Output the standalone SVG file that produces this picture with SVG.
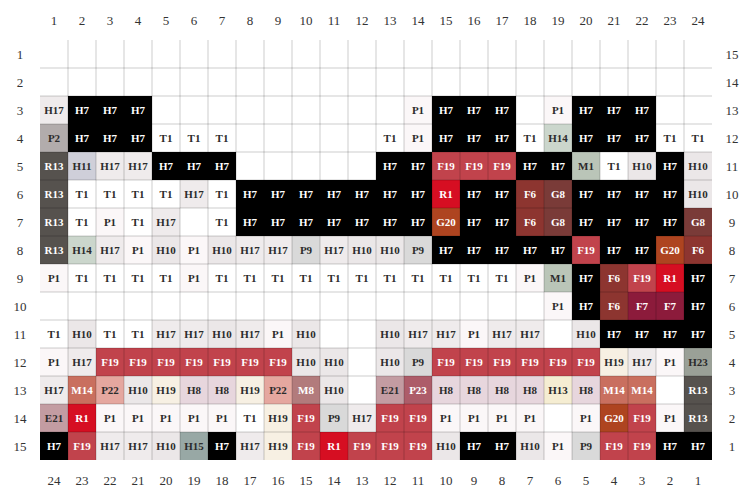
<svg xmlns="http://www.w3.org/2000/svg" width="752" height="500" viewBox="0 0 752 500">
<style>
rect{stroke:none}
.H7{fill:#000}.F19{fill:#c1434c}.R1{fill:#d60e22}.G20{fill:#ae4420}.F6{fill:#8d3530}.G8{fill:#7a3b38}.F7{fill:#8c1b3b}
.R13{fill:#56524e}.P2{fill:#b2acac}.H11{fill:#cfcfd9}.H17{fill:#efebec}.T1{fill:#fff}.P1{fill:#fbf7f8}.H14{fill:#cbd6cc}
.M1{fill:#bac5b8}.H10{fill:#ebe7e8}.P9{fill:#d9d9d9}.H19{fill:#f7f0e3}.H8{fill:#e7d6dd}.P22{fill:#e5a79f}.M14{fill:#c96f5f}
.M8{fill:#b27b7c}.E21{fill:#c39ca2}.P23{fill:#ad5c69}.H13{fill:#f5edd2}.H23{fill:#9aa097}.H15{fill:#98a8a5}
text{font-family:"Liberation Serif","Times New Roman",serif}
.cell text{font-size:11px;font-weight:bold;text-anchor:middle}
.w{fill:#fff}.d{fill:#2b2b2b}
.ax{font-size:13px;fill:#333;text-anchor:middle}
</style>
<rect x="0" y="0" width="752" height="500" fill="#fff"/>
<g id="cells" class="cell">
<g id="r3c1" transform="translate(40,96)"><rect class="H17" width="28" height="28"/><text class="d" x="14" y="18">H17</text></g>
<g id="r3c2" transform="translate(68,96)"><rect class="H7" width="28" height="28"/><text class="w" x="14" y="18">H7</text></g>
<g id="r3c3" transform="translate(96,96)"><rect class="H7" width="28" height="28"/><text class="w" x="14" y="18">H7</text></g>
<g id="r3c4" transform="translate(124,96)"><rect class="H7" width="28" height="28"/><text class="w" x="14" y="18">H7</text></g>
<g id="r3c14" transform="translate(404,96)"><rect class="P1" width="28" height="28"/><text class="d" x="14" y="18">P1</text></g>
<g id="r3c15" transform="translate(432,96)"><rect class="H7" width="28" height="28"/><text class="w" x="14" y="18">H7</text></g>
<g id="r3c16" transform="translate(460,96)"><rect class="H7" width="28" height="28"/><text class="w" x="14" y="18">H7</text></g>
<g id="r3c17" transform="translate(488,96)"><rect class="H7" width="28" height="28"/><text class="w" x="14" y="18">H7</text></g>
<g id="r3c19" transform="translate(544,96)"><rect class="P1" width="28" height="28"/><text class="d" x="14" y="18">P1</text></g>
<g id="r3c20" transform="translate(572,96)"><rect class="H7" width="28" height="28"/><text class="w" x="14" y="18">H7</text></g>
<g id="r3c21" transform="translate(600,96)"><rect class="H7" width="28" height="28"/><text class="w" x="14" y="18">H7</text></g>
<g id="r3c22" transform="translate(628,96)"><rect class="H7" width="28" height="28"/><text class="w" x="14" y="18">H7</text></g>

<g id="r4c1" transform="translate(40,124)"><rect class="P2" width="28" height="28"/><text class="d" x="14" y="18">P2</text></g>
<g id="r4c2" transform="translate(68,124)"><rect class="H7" width="28" height="28"/><text class="w" x="14" y="18">H7</text></g>
<g id="r4c3" transform="translate(96,124)"><rect class="H7" width="28" height="28"/><text class="w" x="14" y="18">H7</text></g>
<g id="r4c4" transform="translate(124,124)"><rect class="H7" width="28" height="28"/><text class="w" x="14" y="18">H7</text></g>
<g id="r4c5" transform="translate(152,124)"><rect class="T1" width="28" height="28"/><text class="d" x="14" y="18">T1</text></g>
<g id="r4c6" transform="translate(180,124)"><rect class="T1" width="28" height="28"/><text class="d" x="14" y="18">T1</text></g>
<g id="r4c7" transform="translate(208,124)"><rect class="T1" width="28" height="28"/><text class="d" x="14" y="18">T1</text></g>
<g id="r4c13" transform="translate(376,124)"><rect class="T1" width="28" height="28"/><text class="d" x="14" y="18">T1</text></g>
<g id="r4c14" transform="translate(404,124)"><rect class="P1" width="28" height="28"/><text class="d" x="14" y="18">P1</text></g>
<g id="r4c15" transform="translate(432,124)"><rect class="H7" width="28" height="28"/><text class="w" x="14" y="18">H7</text></g>
<g id="r4c16" transform="translate(460,124)"><rect class="H7" width="28" height="28"/><text class="w" x="14" y="18">H7</text></g>
<g id="r4c17" transform="translate(488,124)"><rect class="H7" width="28" height="28"/><text class="w" x="14" y="18">H7</text></g>
<g id="r4c18" transform="translate(516,124)"><rect class="T1" width="28" height="28"/><text class="d" x="14" y="18">T1</text></g>
<g id="r4c19" transform="translate(544,124)"><rect class="H14" width="28" height="28"/><text class="d" x="14" y="18">H14</text></g>
<g id="r4c20" transform="translate(572,124)"><rect class="H7" width="28" height="28"/><text class="w" x="14" y="18">H7</text></g>
<g id="r4c21" transform="translate(600,124)"><rect class="H7" width="28" height="28"/><text class="w" x="14" y="18">H7</text></g>
<g id="r4c22" transform="translate(628,124)"><rect class="H7" width="28" height="28"/><text class="w" x="14" y="18">H7</text></g>
<g id="r4c23" transform="translate(656,124)"><rect class="T1" width="28" height="28"/><text class="d" x="14" y="18">T1</text></g>
<g id="r4c24" transform="translate(684,124)"><rect class="T1" width="28" height="28"/><text class="d" x="14" y="18">T1</text></g>

<g id="r5c1" transform="translate(40,152)"><rect class="R13" width="28" height="28"/><text class="w" x="14" y="18">R13</text></g>
<g id="r5c2" transform="translate(68,152)"><rect class="H11" width="28" height="28"/><text class="d" x="14" y="18">H11</text></g>
<g id="r5c3" transform="translate(96,152)"><rect class="H17" width="28" height="28"/><text class="d" x="14" y="18">H17</text></g>
<g id="r5c4" transform="translate(124,152)"><rect class="H17" width="28" height="28"/><text class="d" x="14" y="18">H17</text></g>
<g id="r5c5" transform="translate(152,152)"><rect class="H7" width="28" height="28"/><text class="w" x="14" y="18">H7</text></g>
<g id="r5c6" transform="translate(180,152)"><rect class="H7" width="28" height="28"/><text class="w" x="14" y="18">H7</text></g>
<g id="r5c7" transform="translate(208,152)"><rect class="H7" width="28" height="28"/><text class="w" x="14" y="18">H7</text></g>
<g id="r5c13" transform="translate(376,152)"><rect class="H7" width="28" height="28"/><text class="w" x="14" y="18">H7</text></g>
<g id="r5c14" transform="translate(404,152)"><rect class="H7" width="28" height="28"/><text class="w" x="14" y="18">H7</text></g>
<g id="r5c15" transform="translate(432,152)"><rect class="F19" width="28" height="28"/><text class="w" x="14" y="18">F19</text></g>
<g id="r5c16" transform="translate(460,152)"><rect class="F19" width="28" height="28"/><text class="w" x="14" y="18">F19</text></g>
<g id="r5c17" transform="translate(488,152)"><rect class="F19" width="28" height="28"/><text class="w" x="14" y="18">F19</text></g>
<g id="r5c18" transform="translate(516,152)"><rect class="H7" width="28" height="28"/><text class="w" x="14" y="18">H7</text></g>
<g id="r5c19" transform="translate(544,152)"><rect class="H7" width="28" height="28"/><text class="w" x="14" y="18">H7</text></g>
<g id="r5c20" transform="translate(572,152)"><rect class="M1" width="28" height="28"/><text class="d" x="14" y="18">M1</text></g>
<g id="r5c21" transform="translate(600,152)"><rect class="T1" width="28" height="28"/><text class="d" x="14" y="18">T1</text></g>
<g id="r5c22" transform="translate(628,152)"><rect class="H10" width="28" height="28"/><text class="d" x="14" y="18">H10</text></g>
<g id="r5c23" transform="translate(656,152)"><rect class="H7" width="28" height="28"/><text class="w" x="14" y="18">H7</text></g>
<g id="r5c24" transform="translate(684,152)"><rect class="H10" width="28" height="28"/><text class="d" x="14" y="18">H10</text></g>

<g id="r6c1" transform="translate(40,180)"><rect class="R13" width="28" height="28"/><text class="w" x="14" y="18">R13</text></g>
<g id="r6c2" transform="translate(68,180)"><rect class="T1" width="28" height="28"/><text class="d" x="14" y="18">T1</text></g>
<g id="r6c3" transform="translate(96,180)"><rect class="T1" width="28" height="28"/><text class="d" x="14" y="18">T1</text></g>
<g id="r6c4" transform="translate(124,180)"><rect class="T1" width="28" height="28"/><text class="d" x="14" y="18">T1</text></g>
<g id="r6c5" transform="translate(152,180)"><rect class="T1" width="28" height="28"/><text class="d" x="14" y="18">T1</text></g>
<g id="r6c6" transform="translate(180,180)"><rect class="H17" width="28" height="28"/><text class="d" x="14" y="18">H17</text></g>
<g id="r6c7" transform="translate(208,180)"><rect class="T1" width="28" height="28"/><text class="d" x="14" y="18">T1</text></g>
<g id="r6c8" transform="translate(236,180)"><rect class="H7" width="28" height="28"/><text class="w" x="14" y="18">H7</text></g>
<g id="r6c9" transform="translate(264,180)"><rect class="H7" width="28" height="28"/><text class="w" x="14" y="18">H7</text></g>
<g id="r6c10" transform="translate(292,180)"><rect class="H7" width="28" height="28"/><text class="w" x="14" y="18">H7</text></g>
<g id="r6c11" transform="translate(320,180)"><rect class="H7" width="28" height="28"/><text class="w" x="14" y="18">H7</text></g>
<g id="r6c12" transform="translate(348,180)"><rect class="H7" width="28" height="28"/><text class="w" x="14" y="18">H7</text></g>
<g id="r6c13" transform="translate(376,180)"><rect class="H7" width="28" height="28"/><text class="w" x="14" y="18">H7</text></g>
<g id="r6c14" transform="translate(404,180)"><rect class="H7" width="28" height="28"/><text class="w" x="14" y="18">H7</text></g>
<g id="r6c15" transform="translate(432,180)"><rect class="R1" width="28" height="28"/><text class="w" x="14" y="18">R1</text></g>
<g id="r6c16" transform="translate(460,180)"><rect class="H7" width="28" height="28"/><text class="w" x="14" y="18">H7</text></g>
<g id="r6c17" transform="translate(488,180)"><rect class="H7" width="28" height="28"/><text class="w" x="14" y="18">H7</text></g>
<g id="r6c18" transform="translate(516,180)"><rect class="F6" width="28" height="28"/><text class="w" x="14" y="18">F6</text></g>
<g id="r6c19" transform="translate(544,180)"><rect class="G8" width="28" height="28"/><text class="w" x="14" y="18">G8</text></g>
<g id="r6c20" transform="translate(572,180)"><rect class="H7" width="28" height="28"/><text class="w" x="14" y="18">H7</text></g>
<g id="r6c21" transform="translate(600,180)"><rect class="H7" width="28" height="28"/><text class="w" x="14" y="18">H7</text></g>
<g id="r6c22" transform="translate(628,180)"><rect class="H7" width="28" height="28"/><text class="w" x="14" y="18">H7</text></g>
<g id="r6c23" transform="translate(656,180)"><rect class="H7" width="28" height="28"/><text class="w" x="14" y="18">H7</text></g>
<g id="r6c24" transform="translate(684,180)"><rect class="H10" width="28" height="28"/><text class="d" x="14" y="18">H10</text></g>

<g id="r7c1" transform="translate(40,208)"><rect class="R13" width="28" height="28"/><text class="w" x="14" y="18">R13</text></g>
<g id="r7c2" transform="translate(68,208)"><rect class="T1" width="28" height="28"/><text class="d" x="14" y="18">T1</text></g>
<g id="r7c3" transform="translate(96,208)"><rect class="P1" width="28" height="28"/><text class="d" x="14" y="18">P1</text></g>
<g id="r7c4" transform="translate(124,208)"><rect class="T1" width="28" height="28"/><text class="d" x="14" y="18">T1</text></g>
<g id="r7c5" transform="translate(152,208)"><rect class="H17" width="28" height="28"/><text class="d" x="14" y="18">H17</text></g>
<g id="r7c7" transform="translate(208,208)"><rect class="T1" width="28" height="28"/><text class="d" x="14" y="18">T1</text></g>
<g id="r7c8" transform="translate(236,208)"><rect class="H7" width="28" height="28"/><text class="w" x="14" y="18">H7</text></g>
<g id="r7c9" transform="translate(264,208)"><rect class="H7" width="28" height="28"/><text class="w" x="14" y="18">H7</text></g>
<g id="r7c10" transform="translate(292,208)"><rect class="H7" width="28" height="28"/><text class="w" x="14" y="18">H7</text></g>
<g id="r7c11" transform="translate(320,208)"><rect class="H7" width="28" height="28"/><text class="w" x="14" y="18">H7</text></g>
<g id="r7c12" transform="translate(348,208)"><rect class="H7" width="28" height="28"/><text class="w" x="14" y="18">H7</text></g>
<g id="r7c13" transform="translate(376,208)"><rect class="H7" width="28" height="28"/><text class="w" x="14" y="18">H7</text></g>
<g id="r7c14" transform="translate(404,208)"><rect class="H7" width="28" height="28"/><text class="w" x="14" y="18">H7</text></g>
<g id="r7c15" transform="translate(432,208)"><rect class="G20" width="28" height="28"/><text class="w" x="14" y="18">G20</text></g>
<g id="r7c16" transform="translate(460,208)"><rect class="H7" width="28" height="28"/><text class="w" x="14" y="18">H7</text></g>
<g id="r7c17" transform="translate(488,208)"><rect class="H7" width="28" height="28"/><text class="w" x="14" y="18">H7</text></g>
<g id="r7c18" transform="translate(516,208)"><rect class="F6" width="28" height="28"/><text class="w" x="14" y="18">F6</text></g>
<g id="r7c19" transform="translate(544,208)"><rect class="G8" width="28" height="28"/><text class="w" x="14" y="18">G8</text></g>
<g id="r7c20" transform="translate(572,208)"><rect class="H7" width="28" height="28"/><text class="w" x="14" y="18">H7</text></g>
<g id="r7c21" transform="translate(600,208)"><rect class="H7" width="28" height="28"/><text class="w" x="14" y="18">H7</text></g>
<g id="r7c22" transform="translate(628,208)"><rect class="H7" width="28" height="28"/><text class="w" x="14" y="18">H7</text></g>
<g id="r7c23" transform="translate(656,208)"><rect class="H7" width="28" height="28"/><text class="w" x="14" y="18">H7</text></g>
<g id="r7c24" transform="translate(684,208)"><rect class="G8" width="28" height="28"/><text class="w" x="14" y="18">G8</text></g>

<g id="r8c1" transform="translate(40,236)"><rect class="R13" width="28" height="28"/><text class="w" x="14" y="18">R13</text></g>
<g id="r8c2" transform="translate(68,236)"><rect class="H14" width="28" height="28"/><text class="d" x="14" y="18">H14</text></g>
<g id="r8c3" transform="translate(96,236)"><rect class="H17" width="28" height="28"/><text class="d" x="14" y="18">H17</text></g>
<g id="r8c4" transform="translate(124,236)"><rect class="P1" width="28" height="28"/><text class="d" x="14" y="18">P1</text></g>
<g id="r8c5" transform="translate(152,236)"><rect class="H10" width="28" height="28"/><text class="d" x="14" y="18">H10</text></g>
<g id="r8c6" transform="translate(180,236)"><rect class="P1" width="28" height="28"/><text class="d" x="14" y="18">P1</text></g>
<g id="r8c7" transform="translate(208,236)"><rect class="H10" width="28" height="28"/><text class="d" x="14" y="18">H10</text></g>
<g id="r8c8" transform="translate(236,236)"><rect class="H17" width="28" height="28"/><text class="d" x="14" y="18">H17</text></g>
<g id="r8c9" transform="translate(264,236)"><rect class="H17" width="28" height="28"/><text class="d" x="14" y="18">H17</text></g>
<g id="r8c10" transform="translate(292,236)"><rect class="P9" width="28" height="28"/><text class="d" x="14" y="18">P9</text></g>
<g id="r8c11" transform="translate(320,236)"><rect class="H17" width="28" height="28"/><text class="d" x="14" y="18">H17</text></g>
<g id="r8c12" transform="translate(348,236)"><rect class="H10" width="28" height="28"/><text class="d" x="14" y="18">H10</text></g>
<g id="r8c13" transform="translate(376,236)"><rect class="H10" width="28" height="28"/><text class="d" x="14" y="18">H10</text></g>
<g id="r8c14" transform="translate(404,236)"><rect class="P9" width="28" height="28"/><text class="d" x="14" y="18">P9</text></g>
<g id="r8c15" transform="translate(432,236)"><rect class="H7" width="28" height="28"/><text class="w" x="14" y="18">H7</text></g>
<g id="r8c16" transform="translate(460,236)"><rect class="H7" width="28" height="28"/><text class="w" x="14" y="18">H7</text></g>
<g id="r8c17" transform="translate(488,236)"><rect class="H7" width="28" height="28"/><text class="w" x="14" y="18">H7</text></g>
<g id="r8c18" transform="translate(516,236)"><rect class="H7" width="28" height="28"/><text class="w" x="14" y="18">H7</text></g>
<g id="r8c19" transform="translate(544,236)"><rect class="H7" width="28" height="28"/><text class="w" x="14" y="18">H7</text></g>
<g id="r8c20" transform="translate(572,236)"><rect class="F19" width="28" height="28"/><text class="w" x="14" y="18">F19</text></g>
<g id="r8c21" transform="translate(600,236)"><rect class="H7" width="28" height="28"/><text class="w" x="14" y="18">H7</text></g>
<g id="r8c22" transform="translate(628,236)"><rect class="H7" width="28" height="28"/><text class="w" x="14" y="18">H7</text></g>
<g id="r8c23" transform="translate(656,236)"><rect class="G20" width="28" height="28"/><text class="w" x="14" y="18">G20</text></g>
<g id="r8c24" transform="translate(684,236)"><rect class="F6" width="28" height="28"/><text class="w" x="14" y="18">F6</text></g>

<g id="r9c1" transform="translate(40,264)"><rect class="P1" width="28" height="28"/><text class="d" x="14" y="18">P1</text></g>
<g id="r9c2" transform="translate(68,264)"><rect class="T1" width="28" height="28"/><text class="d" x="14" y="18">T1</text></g>
<g id="r9c3" transform="translate(96,264)"><rect class="T1" width="28" height="28"/><text class="d" x="14" y="18">T1</text></g>
<g id="r9c4" transform="translate(124,264)"><rect class="T1" width="28" height="28"/><text class="d" x="14" y="18">T1</text></g>
<g id="r9c5" transform="translate(152,264)"><rect class="T1" width="28" height="28"/><text class="d" x="14" y="18">T1</text></g>
<g id="r9c6" transform="translate(180,264)"><rect class="P1" width="28" height="28"/><text class="d" x="14" y="18">P1</text></g>
<g id="r9c7" transform="translate(208,264)"><rect class="T1" width="28" height="28"/><text class="d" x="14" y="18">T1</text></g>
<g id="r9c8" transform="translate(236,264)"><rect class="T1" width="28" height="28"/><text class="d" x="14" y="18">T1</text></g>
<g id="r9c9" transform="translate(264,264)"><rect class="T1" width="28" height="28"/><text class="d" x="14" y="18">T1</text></g>
<g id="r9c10" transform="translate(292,264)"><rect class="T1" width="28" height="28"/><text class="d" x="14" y="18">T1</text></g>
<g id="r9c11" transform="translate(320,264)"><rect class="T1" width="28" height="28"/><text class="d" x="14" y="18">T1</text></g>
<g id="r9c12" transform="translate(348,264)"><rect class="T1" width="28" height="28"/><text class="d" x="14" y="18">T1</text></g>
<g id="r9c13" transform="translate(376,264)"><rect class="T1" width="28" height="28"/><text class="d" x="14" y="18">T1</text></g>
<g id="r9c14" transform="translate(404,264)"><rect class="T1" width="28" height="28"/><text class="d" x="14" y="18">T1</text></g>
<g id="r9c15" transform="translate(432,264)"><rect class="T1" width="28" height="28"/><text class="d" x="14" y="18">T1</text></g>
<g id="r9c16" transform="translate(460,264)"><rect class="T1" width="28" height="28"/><text class="d" x="14" y="18">T1</text></g>
<g id="r9c17" transform="translate(488,264)"><rect class="T1" width="28" height="28"/><text class="d" x="14" y="18">T1</text></g>
<g id="r9c18" transform="translate(516,264)"><rect class="P1" width="28" height="28"/><text class="d" x="14" y="18">P1</text></g>
<g id="r9c19" transform="translate(544,264)"><rect class="M1" width="28" height="28"/><text class="d" x="14" y="18">M1</text></g>
<g id="r9c20" transform="translate(572,264)"><rect class="H7" width="28" height="28"/><text class="w" x="14" y="18">H7</text></g>
<g id="r9c21" transform="translate(600,264)"><rect class="F6" width="28" height="28"/><text class="w" x="14" y="18">F6</text></g>
<g id="r9c22" transform="translate(628,264)"><rect class="F19" width="28" height="28"/><text class="w" x="14" y="18">F19</text></g>
<g id="r9c23" transform="translate(656,264)"><rect class="R1" width="28" height="28"/><text class="w" x="14" y="18">R1</text></g>
<g id="r9c24" transform="translate(684,264)"><rect class="H7" width="28" height="28"/><text class="w" x="14" y="18">H7</text></g>

<g id="r10c19" transform="translate(544,292)"><rect class="P1" width="28" height="28"/><text class="d" x="14" y="18">P1</text></g>
<g id="r10c20" transform="translate(572,292)"><rect class="H7" width="28" height="28"/><text class="w" x="14" y="18">H7</text></g>
<g id="r10c21" transform="translate(600,292)"><rect class="F6" width="28" height="28"/><text class="w" x="14" y="18">F6</text></g>
<g id="r10c22" transform="translate(628,292)"><rect class="F7" width="28" height="28"/><text class="w" x="14" y="18">F7</text></g>
<g id="r10c23" transform="translate(656,292)"><rect class="F7" width="28" height="28"/><text class="w" x="14" y="18">F7</text></g>
<g id="r10c24" transform="translate(684,292)"><rect class="H7" width="28" height="28"/><text class="w" x="14" y="18">H7</text></g>

<g id="r11c1" transform="translate(40,320)"><rect class="T1" width="28" height="28"/><text class="d" x="14" y="18">T1</text></g>
<g id="r11c2" transform="translate(68,320)"><rect class="H10" width="28" height="28"/><text class="d" x="14" y="18">H10</text></g>
<g id="r11c3" transform="translate(96,320)"><rect class="T1" width="28" height="28"/><text class="d" x="14" y="18">T1</text></g>
<g id="r11c4" transform="translate(124,320)"><rect class="T1" width="28" height="28"/><text class="d" x="14" y="18">T1</text></g>
<g id="r11c5" transform="translate(152,320)"><rect class="H17" width="28" height="28"/><text class="d" x="14" y="18">H17</text></g>
<g id="r11c6" transform="translate(180,320)"><rect class="H17" width="28" height="28"/><text class="d" x="14" y="18">H17</text></g>
<g id="r11c7" transform="translate(208,320)"><rect class="H10" width="28" height="28"/><text class="d" x="14" y="18">H10</text></g>
<g id="r11c8" transform="translate(236,320)"><rect class="H17" width="28" height="28"/><text class="d" x="14" y="18">H17</text></g>
<g id="r11c9" transform="translate(264,320)"><rect class="P1" width="28" height="28"/><text class="d" x="14" y="18">P1</text></g>
<g id="r11c10" transform="translate(292,320)"><rect class="H10" width="28" height="28"/><text class="d" x="14" y="18">H10</text></g>
<g id="r11c13" transform="translate(376,320)"><rect class="H10" width="28" height="28"/><text class="d" x="14" y="18">H10</text></g>
<g id="r11c14" transform="translate(404,320)"><rect class="H17" width="28" height="28"/><text class="d" x="14" y="18">H17</text></g>
<g id="r11c15" transform="translate(432,320)"><rect class="H17" width="28" height="28"/><text class="d" x="14" y="18">H17</text></g>
<g id="r11c16" transform="translate(460,320)"><rect class="P1" width="28" height="28"/><text class="d" x="14" y="18">P1</text></g>
<g id="r11c17" transform="translate(488,320)"><rect class="H17" width="28" height="28"/><text class="d" x="14" y="18">H17</text></g>
<g id="r11c18" transform="translate(516,320)"><rect class="H17" width="28" height="28"/><text class="d" x="14" y="18">H17</text></g>
<g id="r11c20" transform="translate(572,320)"><rect class="H10" width="28" height="28"/><text class="d" x="14" y="18">H10</text></g>
<g id="r11c21" transform="translate(600,320)"><rect class="H7" width="28" height="28"/><text class="w" x="14" y="18">H7</text></g>
<g id="r11c22" transform="translate(628,320)"><rect class="H7" width="28" height="28"/><text class="w" x="14" y="18">H7</text></g>
<g id="r11c23" transform="translate(656,320)"><rect class="H7" width="28" height="28"/><text class="w" x="14" y="18">H7</text></g>
<g id="r11c24" transform="translate(684,320)"><rect class="H7" width="28" height="28"/><text class="w" x="14" y="18">H7</text></g>

<g id="r12c1" transform="translate(40,348)"><rect class="P1" width="28" height="28"/><text class="d" x="14" y="18">P1</text></g>
<g id="r12c2" transform="translate(68,348)"><rect class="H17" width="28" height="28"/><text class="d" x="14" y="18">H17</text></g>
<g id="r12c3" transform="translate(96,348)"><rect class="F19" width="28" height="28"/><text class="w" x="14" y="18">F19</text></g>
<g id="r12c4" transform="translate(124,348)"><rect class="F19" width="28" height="28"/><text class="w" x="14" y="18">F19</text></g>
<g id="r12c5" transform="translate(152,348)"><rect class="F19" width="28" height="28"/><text class="w" x="14" y="18">F19</text></g>
<g id="r12c6" transform="translate(180,348)"><rect class="F19" width="28" height="28"/><text class="w" x="14" y="18">F19</text></g>
<g id="r12c7" transform="translate(208,348)"><rect class="F19" width="28" height="28"/><text class="w" x="14" y="18">F19</text></g>
<g id="r12c8" transform="translate(236,348)"><rect class="F19" width="28" height="28"/><text class="w" x="14" y="18">F19</text></g>
<g id="r12c9" transform="translate(264,348)"><rect class="F19" width="28" height="28"/><text class="w" x="14" y="18">F19</text></g>
<g id="r12c10" transform="translate(292,348)"><rect class="H10" width="28" height="28"/><text class="d" x="14" y="18">H10</text></g>
<g id="r12c11" transform="translate(320,348)"><rect class="H10" width="28" height="28"/><text class="d" x="14" y="18">H10</text></g>
<g id="r12c13" transform="translate(376,348)"><rect class="H10" width="28" height="28"/><text class="d" x="14" y="18">H10</text></g>
<g id="r12c14" transform="translate(404,348)"><rect class="P9" width="28" height="28"/><text class="d" x="14" y="18">P9</text></g>
<g id="r12c15" transform="translate(432,348)"><rect class="F19" width="28" height="28"/><text class="w" x="14" y="18">F19</text></g>
<g id="r12c16" transform="translate(460,348)"><rect class="F19" width="28" height="28"/><text class="w" x="14" y="18">F19</text></g>
<g id="r12c17" transform="translate(488,348)"><rect class="F19" width="28" height="28"/><text class="w" x="14" y="18">F19</text></g>
<g id="r12c18" transform="translate(516,348)"><rect class="F19" width="28" height="28"/><text class="w" x="14" y="18">F19</text></g>
<g id="r12c19" transform="translate(544,348)"><rect class="F19" width="28" height="28"/><text class="w" x="14" y="18">F19</text></g>
<g id="r12c20" transform="translate(572,348)"><rect class="F19" width="28" height="28"/><text class="w" x="14" y="18">F19</text></g>
<g id="r12c21" transform="translate(600,348)"><rect class="H19" width="28" height="28"/><text class="d" x="14" y="18">H19</text></g>
<g id="r12c22" transform="translate(628,348)"><rect class="H17" width="28" height="28"/><text class="d" x="14" y="18">H17</text></g>
<g id="r12c23" transform="translate(656,348)"><rect class="P1" width="28" height="28"/><text class="d" x="14" y="18">P1</text></g>
<g id="r12c24" transform="translate(684,348)"><rect class="H23" width="28" height="28"/><text class="d" x="14" y="18">H23</text></g>

<g id="r13c1" transform="translate(40,376)"><rect class="H17" width="28" height="28"/><text class="d" x="14" y="18">H17</text></g>
<g id="r13c2" transform="translate(68,376)"><rect class="M14" width="28" height="28"/><text class="w" x="14" y="18">M14</text></g>
<g id="r13c3" transform="translate(96,376)"><rect class="P22" width="28" height="28"/><text class="d" x="14" y="18">P22</text></g>
<g id="r13c4" transform="translate(124,376)"><rect class="H10" width="28" height="28"/><text class="d" x="14" y="18">H10</text></g>
<g id="r13c5" transform="translate(152,376)"><rect class="H19" width="28" height="28"/><text class="d" x="14" y="18">H19</text></g>
<g id="r13c6" transform="translate(180,376)"><rect class="H8" width="28" height="28"/><text class="d" x="14" y="18">H8</text></g>
<g id="r13c7" transform="translate(208,376)"><rect class="H8" width="28" height="28"/><text class="d" x="14" y="18">H8</text></g>
<g id="r13c8" transform="translate(236,376)"><rect class="H19" width="28" height="28"/><text class="d" x="14" y="18">H19</text></g>
<g id="r13c9" transform="translate(264,376)"><rect class="P22" width="28" height="28"/><text class="d" x="14" y="18">P22</text></g>
<g id="r13c10" transform="translate(292,376)"><rect class="M8" width="28" height="28"/><text class="w" x="14" y="18">M8</text></g>
<g id="r13c11" transform="translate(320,376)"><rect class="H10" width="28" height="28"/><text class="d" x="14" y="18">H10</text></g>
<g id="r13c13" transform="translate(376,376)"><rect class="E21" width="28" height="28"/><text class="d" x="14" y="18">E21</text></g>
<g id="r13c14" transform="translate(404,376)"><rect class="P23" width="28" height="28"/><text class="w" x="14" y="18">P23</text></g>
<g id="r13c15" transform="translate(432,376)"><rect class="H8" width="28" height="28"/><text class="d" x="14" y="18">H8</text></g>
<g id="r13c16" transform="translate(460,376)"><rect class="H8" width="28" height="28"/><text class="d" x="14" y="18">H8</text></g>
<g id="r13c17" transform="translate(488,376)"><rect class="H8" width="28" height="28"/><text class="d" x="14" y="18">H8</text></g>
<g id="r13c18" transform="translate(516,376)"><rect class="H8" width="28" height="28"/><text class="d" x="14" y="18">H8</text></g>
<g id="r13c19" transform="translate(544,376)"><rect class="H13" width="28" height="28"/><text class="d" x="14" y="18">H13</text></g>
<g id="r13c20" transform="translate(572,376)"><rect class="H8" width="28" height="28"/><text class="d" x="14" y="18">H8</text></g>
<g id="r13c21" transform="translate(600,376)"><rect class="M14" width="28" height="28"/><text class="w" x="14" y="18">M14</text></g>
<g id="r13c22" transform="translate(628,376)"><rect class="M14" width="28" height="28"/><text class="w" x="14" y="18">M14</text></g>
<g id="r13c24" transform="translate(684,376)"><rect class="R13" width="28" height="28"/><text class="w" x="14" y="18">R13</text></g>

<g id="r14c1" transform="translate(40,404)"><rect class="E21" width="28" height="28"/><text class="d" x="14" y="18">E21</text></g>
<g id="r14c2" transform="translate(68,404)"><rect class="R1" width="28" height="28"/><text class="w" x="14" y="18">R1</text></g>
<g id="r14c3" transform="translate(96,404)"><rect class="P1" width="28" height="28"/><text class="d" x="14" y="18">P1</text></g>
<g id="r14c4" transform="translate(124,404)"><rect class="P1" width="28" height="28"/><text class="d" x="14" y="18">P1</text></g>
<g id="r14c5" transform="translate(152,404)"><rect class="P1" width="28" height="28"/><text class="d" x="14" y="18">P1</text></g>
<g id="r14c6" transform="translate(180,404)"><rect class="P1" width="28" height="28"/><text class="d" x="14" y="18">P1</text></g>
<g id="r14c7" transform="translate(208,404)"><rect class="P1" width="28" height="28"/><text class="d" x="14" y="18">P1</text></g>
<g id="r14c8" transform="translate(236,404)"><rect class="T1" width="28" height="28"/><text class="d" x="14" y="18">T1</text></g>
<g id="r14c9" transform="translate(264,404)"><rect class="H19" width="28" height="28"/><text class="d" x="14" y="18">H19</text></g>
<g id="r14c10" transform="translate(292,404)"><rect class="F19" width="28" height="28"/><text class="w" x="14" y="18">F19</text></g>
<g id="r14c11" transform="translate(320,404)"><rect class="P9" width="28" height="28"/><text class="d" x="14" y="18">P9</text></g>
<g id="r14c12" transform="translate(348,404)"><rect class="H17" width="28" height="28"/><text class="d" x="14" y="18">H17</text></g>
<g id="r14c13" transform="translate(376,404)"><rect class="F19" width="28" height="28"/><text class="w" x="14" y="18">F19</text></g>
<g id="r14c14" transform="translate(404,404)"><rect class="F19" width="28" height="28"/><text class="w" x="14" y="18">F19</text></g>
<g id="r14c15" transform="translate(432,404)"><rect class="P1" width="28" height="28"/><text class="d" x="14" y="18">P1</text></g>
<g id="r14c16" transform="translate(460,404)"><rect class="P1" width="28" height="28"/><text class="d" x="14" y="18">P1</text></g>
<g id="r14c17" transform="translate(488,404)"><rect class="P1" width="28" height="28"/><text class="d" x="14" y="18">P1</text></g>
<g id="r14c18" transform="translate(516,404)"><rect class="P1" width="28" height="28"/><text class="d" x="14" y="18">P1</text></g>
<g id="r14c20" transform="translate(572,404)"><rect class="P1" width="28" height="28"/><text class="d" x="14" y="18">P1</text></g>
<g id="r14c21" transform="translate(600,404)"><rect class="G20" width="28" height="28"/><text class="w" x="14" y="18">G20</text></g>
<g id="r14c22" transform="translate(628,404)"><rect class="F19" width="28" height="28"/><text class="w" x="14" y="18">F19</text></g>
<g id="r14c23" transform="translate(656,404)"><rect class="P1" width="28" height="28"/><text class="d" x="14" y="18">P1</text></g>
<g id="r14c24" transform="translate(684,404)"><rect class="R13" width="28" height="28"/><text class="w" x="14" y="18">R13</text></g>

<g id="r15c1" transform="translate(40,432)"><rect class="H7" width="28" height="28"/><text class="w" x="14" y="18">H7</text></g>
<g id="r15c2" transform="translate(68,432)"><rect class="F19" width="28" height="28"/><text class="w" x="14" y="18">F19</text></g>
<g id="r15c3" transform="translate(96,432)"><rect class="H17" width="28" height="28"/><text class="d" x="14" y="18">H17</text></g>
<g id="r15c4" transform="translate(124,432)"><rect class="H17" width="28" height="28"/><text class="d" x="14" y="18">H17</text></g>
<g id="r15c5" transform="translate(152,432)"><rect class="H10" width="28" height="28"/><text class="d" x="14" y="18">H10</text></g>
<g id="r15c6" transform="translate(180,432)"><rect class="H15" width="28" height="28"/><text class="d" x="14" y="18">H15</text></g>
<g id="r15c7" transform="translate(208,432)"><rect class="H7" width="28" height="28"/><text class="w" x="14" y="18">H7</text></g>
<g id="r15c8" transform="translate(236,432)"><rect class="H17" width="28" height="28"/><text class="d" x="14" y="18">H17</text></g>
<g id="r15c9" transform="translate(264,432)"><rect class="H19" width="28" height="28"/><text class="d" x="14" y="18">H19</text></g>
<g id="r15c10" transform="translate(292,432)"><rect class="F19" width="28" height="28"/><text class="w" x="14" y="18">F19</text></g>
<g id="r15c11" transform="translate(320,432)"><rect class="R1" width="28" height="28"/><text class="w" x="14" y="18">R1</text></g>
<g id="r15c12" transform="translate(348,432)"><rect class="F19" width="28" height="28"/><text class="w" x="14" y="18">F19</text></g>
<g id="r15c13" transform="translate(376,432)"><rect class="F19" width="28" height="28"/><text class="w" x="14" y="18">F19</text></g>
<g id="r15c14" transform="translate(404,432)"><rect class="F19" width="28" height="28"/><text class="w" x="14" y="18">F19</text></g>
<g id="r15c15" transform="translate(432,432)"><rect class="H10" width="28" height="28"/><text class="d" x="14" y="18">H10</text></g>
<g id="r15c16" transform="translate(460,432)"><rect class="H7" width="28" height="28"/><text class="w" x="14" y="18">H7</text></g>
<g id="r15c17" transform="translate(488,432)"><rect class="H7" width="28" height="28"/><text class="w" x="14" y="18">H7</text></g>
<g id="r15c18" transform="translate(516,432)"><rect class="H10" width="28" height="28"/><text class="d" x="14" y="18">H10</text></g>
<g id="r15c19" transform="translate(544,432)"><rect class="P1" width="28" height="28"/><text class="d" x="14" y="18">P1</text></g>
<g id="r15c20" transform="translate(572,432)"><rect class="P9" width="28" height="28"/><text class="d" x="14" y="18">P9</text></g>
<g id="r15c21" transform="translate(600,432)"><rect class="F19" width="28" height="28"/><text class="w" x="14" y="18">F19</text></g>
<g id="r15c22" transform="translate(628,432)"><rect class="F19" width="28" height="28"/><text class="w" x="14" y="18">F19</text></g>
<g id="r15c23" transform="translate(656,432)"><rect class="H7" width="28" height="28"/><text class="w" x="14" y="18">H7</text></g>
<g id="r15c24" transform="translate(684,432)"><rect class="H7" width="28" height="28"/><text class="w" x="14" y="18">H7</text></g>
</g>
<g id="gridlines" stroke="#000" stroke-opacity="0.2" stroke-width="1">
<path d="M68 40V460M96 40V460M124 40V460M152 40V460M180 40V460M208 40V460M236 40V460M264 40V460M292 40V460M320 40V460M348 40V460M376 40V460M404 40V460M432 40V460M460 40V460M488 40V460M516 40V460M544 40V460M572 40V460M600 40V460M628 40V460M656 40V460M684 40V460"/>
<path d="M40 68H712M40 96H712M40 124H712M40 152H712M40 180H712M40 208H712M40 236H712M40 264H712M40 292H712M40 320H712M40 348H712M40 376H712M40 404H712M40 432H712"/>
</g>
<rect id="frame" x="40" y="40" width="672" height="420" fill="none" stroke="#1e1e1e" stroke-width="2.5"/>
<g id="axis-top" class="ax">
<text class="ax" x="54" y="25">1</text><text class="ax" x="82" y="25">2</text><text class="ax" x="110" y="25">3</text><text class="ax" x="138" y="25">4</text><text class="ax" x="166" y="25">5</text><text class="ax" x="194" y="25">6</text><text class="ax" x="222" y="25">7</text><text class="ax" x="250" y="25">8</text><text class="ax" x="278" y="25">9</text><text class="ax" x="306" y="25">10</text><text class="ax" x="334" y="25">11</text><text class="ax" x="362" y="25">12</text><text class="ax" x="390" y="25">13</text><text class="ax" x="418" y="25">14</text><text class="ax" x="446" y="25">15</text><text class="ax" x="474" y="25">16</text><text class="ax" x="502" y="25">17</text><text class="ax" x="530" y="25">18</text><text class="ax" x="558" y="25">19</text><text class="ax" x="586" y="25">20</text><text class="ax" x="614" y="25">21</text><text class="ax" x="642" y="25">22</text><text class="ax" x="670" y="25">23</text><text class="ax" x="698" y="25">24</text>
</g>
<g id="axis-bottom" class="ax">
<text class="ax" x="54" y="485">24</text><text class="ax" x="82" y="485">23</text><text class="ax" x="110" y="485">22</text><text class="ax" x="138" y="485">21</text><text class="ax" x="166" y="485">20</text><text class="ax" x="194" y="485">19</text><text class="ax" x="222" y="485">18</text><text class="ax" x="250" y="485">17</text><text class="ax" x="278" y="485">16</text><text class="ax" x="306" y="485">15</text><text class="ax" x="334" y="485">14</text><text class="ax" x="362" y="485">13</text><text class="ax" x="390" y="485">12</text><text class="ax" x="418" y="485">11</text><text class="ax" x="446" y="485">10</text><text class="ax" x="474" y="485">9</text><text class="ax" x="502" y="485">8</text><text class="ax" x="530" y="485">7</text><text class="ax" x="558" y="485">6</text><text class="ax" x="586" y="485">5</text><text class="ax" x="614" y="485">4</text><text class="ax" x="642" y="485">3</text><text class="ax" x="670" y="485">2</text><text class="ax" x="698" y="485">1</text>
</g>
<g id="axis-left" class="ax">
<text class="ax" x="20" y="59">1</text><text class="ax" x="20" y="87">2</text><text class="ax" x="20" y="115">3</text><text class="ax" x="20" y="143">4</text><text class="ax" x="20" y="171">5</text><text class="ax" x="20" y="199">6</text><text class="ax" x="20" y="227">7</text><text class="ax" x="20" y="255">8</text><text class="ax" x="20" y="283">9</text><text class="ax" x="20" y="311">10</text><text class="ax" x="20" y="339">11</text><text class="ax" x="20" y="367">12</text><text class="ax" x="20" y="395">13</text><text class="ax" x="20" y="423">14</text><text class="ax" x="20" y="451">15</text>
</g>
<g id="axis-right" class="ax">
<text class="ax" x="732" y="59">15</text><text class="ax" x="732" y="87">14</text><text class="ax" x="732" y="115">13</text><text class="ax" x="732" y="143">12</text><text class="ax" x="732" y="171">11</text><text class="ax" x="732" y="199">10</text><text class="ax" x="732" y="227">9</text><text class="ax" x="732" y="255">8</text><text class="ax" x="732" y="283">7</text><text class="ax" x="732" y="311">6</text><text class="ax" x="732" y="339">5</text><text class="ax" x="732" y="367">4</text><text class="ax" x="732" y="395">3</text><text class="ax" x="732" y="423">2</text><text class="ax" x="732" y="451">1</text>
</g>
</svg>
